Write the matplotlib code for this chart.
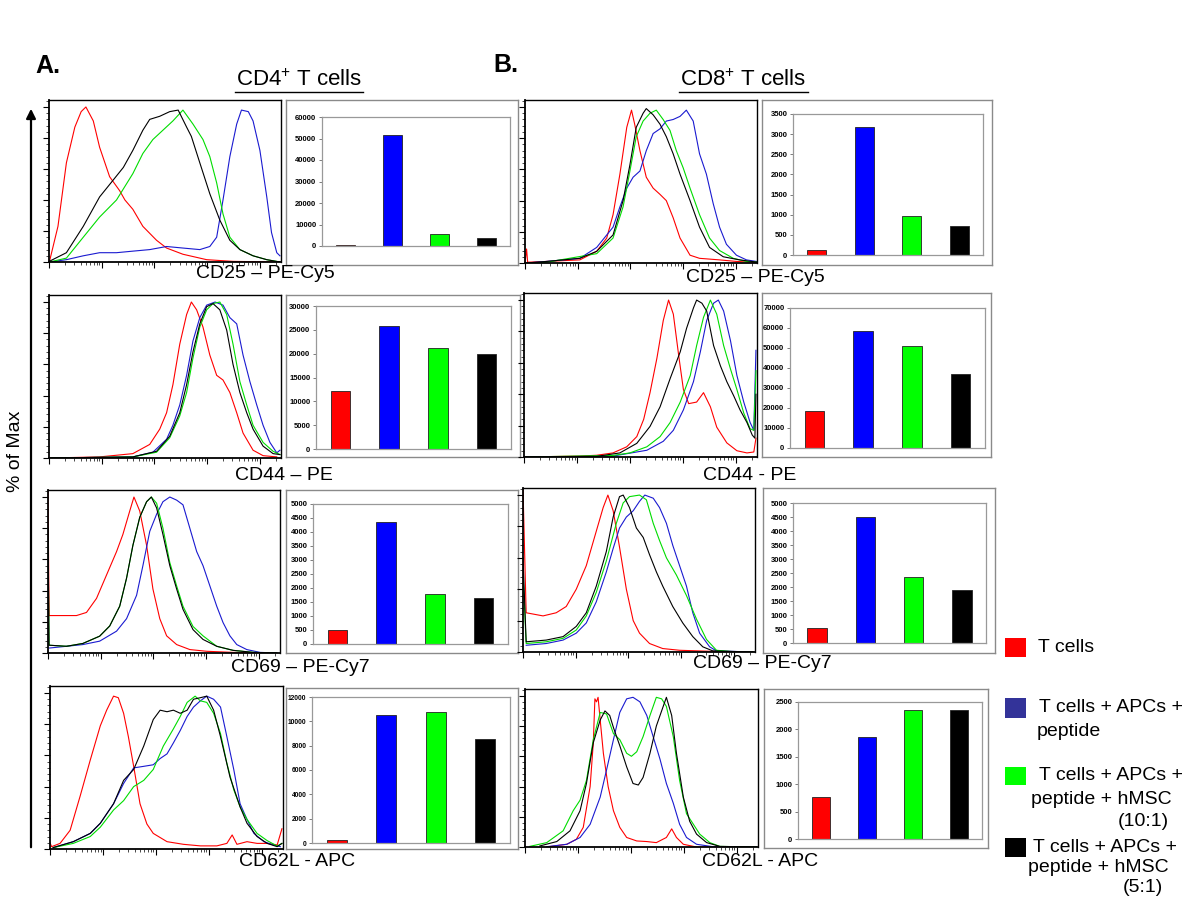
import matplotlib
matplotlib.use('Agg')
import matplotlib.pyplot as plt
from matplotlib.ticker import MultipleLocator, LogLocator, NullFormatter
from matplotlib.lines import Line2D
from matplotlib.patches import Rectangle, FancyArrowPatch

plt.rcParams['font.family'] = ['Liberation Sans', 'DejaVu Sans']
plt.rcParams['mathtext.fontset'] = 'custom'
plt.rcParams['mathtext.rm'] = 'Liberation Sans'
plt.rcParams['mathtext.default'] = 'regular'

# ---------------- data ----------------
groups = ['T cells', 'T cells + APCs + peptide',
          'T cells + APCs + peptide + hMSC (10:1)',
          'T cells + APCs + peptide + hMSC (5:1)']

# histogram curves: (log10 fluorescence, % of max)
cd4_cd25_red = [(0.01, 0.5), (0.17, 23), (0.33, 64), (0.49, 87), (0.61, 97), (0.70, 100), (0.84, 91), (0.96, 74),
                (1.15, 55), (1.34, 46), (1.44, 40), (1.59, 34), (1.78, 23), (2.04, 14), (2.23, 9), (2.54, 5),
                (2.99, 1.5), (3.49, 0.4), (4.38, 0)]
cd4_cd25_blue = [(0.01, 0), (0.33, 1.5), (0.65, 4), (0.96, 6), (1.28, 6), (1.59, 7), (1.91, 8), (2.23, 10),
                 (2.54, 9), (2.86, 8), (3.05, 10), (3.18, 16), (3.30, 40), (3.43, 68), (3.56, 89), (3.65, 98),
                 (3.78, 97), (3.87, 91), (4.00, 72), (4.13, 42), (4.22, 19), (4.32, 6), (4.38, 4)]
cd4_cd25_green = [(0.01, 0), (0.33, 2.5), (0.65, 16), (0.96, 29), (1.28, 40), (1.59, 57), (1.78, 70), (1.97, 79),
                  (2.16, 85), (2.35, 91), (2.54, 98), (2.73, 89), (2.92, 79), (3.05, 68), (3.18, 51), (3.30, 31),
                  (3.43, 16), (3.62, 8), (3.87, 4), (4.13, 1.5), (4.38, 0)]
cd4_cd25_black = [(0.01, 0.5), (0.33, 6), (0.65, 23), (0.96, 42), (1.15, 50), (1.41, 61), (1.59, 72), (1.78, 85),
                  (1.91, 92), (2.10, 94), (2.29, 97), (2.45, 98), (2.61, 87), (2.70, 81), (2.86, 64), (3.05, 44),
                  (3.24, 27), (3.43, 14), (3.62, 8), (3.87, 4), (4.13, 1.5), (4.38, 0)]

cd8_cd25_red = [(0.0, 0), (0.03, 9), (0.05, 0.5), (0.41, 1), (1.04, 2), (1.36, 7.5), (1.55, 16), (1.67, 31),
                (1.80, 57), (1.93, 87), (2.02, 98), (2.08, 89), (2.18, 72), (2.30, 55), (2.43, 48), (2.56, 44),
                (2.68, 40), (2.81, 29), (2.94, 16), (3.13, 5), (3.31, 3), (3.69, 2), (4.01, 1), (4.39, 0.4)]
cd8_cd25_blue = [(0.02, 0), (0.41, 1), (1.04, 3), (1.36, 10), (1.67, 23), (1.80, 36), (1.93, 48), (2.05, 55),
                 (2.18, 59), (2.30, 72), (2.43, 83), (2.56, 86), (2.68, 91), (2.81, 92), (2.94, 94), (3.06, 98),
                 (3.19, 91), (3.31, 70), (3.44, 57), (3.57, 38), (3.69, 23), (3.82, 12), (4.01, 5), (4.20, 2),
                 (4.39, 1)]
cd8_cd25_green = [(0.02, 0), (0.41, 0.5), (1.36, 6), (1.67, 16), (1.86, 36), (1.99, 59), (2.11, 81), (2.24, 91),
                  (2.37, 96), (2.49, 98), (2.62, 92), (2.75, 85), (2.87, 72), (3.00, 61), (3.13, 48), (3.31, 31),
                  (3.50, 16), (3.69, 8), (3.95, 3), (4.20, 1), (4.39, 0.6)]
cd8_cd25_black = [(0.02, 0), (0.41, 1), (1.04, 3), (1.36, 7.5), (1.67, 18), (1.86, 40), (1.99, 63), (2.11, 87),
                  (2.24, 96), (2.30, 99), (2.43, 95), (2.56, 89), (2.68, 81), (2.81, 70), (2.94, 57), (3.13, 40),
                  (3.31, 23), (3.50, 10), (3.76, 4), (4.07, 2), (4.39, 0.6)]

cd4_cd44_red = [(0.02, 0), (0.96, 0.7), (1.59, 2.8), (1.91, 8.7), (2.10, 18.5), (2.23, 29), (2.35, 47), (2.48, 73),
                (2.61, 92), (2.70, 100), (2.80, 95), (2.92, 84), (3.05, 66), (3.18, 53), (3.30, 50), (3.43, 42),
                (3.56, 29), (3.68, 16), (3.87, 5), (4.06, 1.5), (4.32, 0.7)]
cd4_cd44_blue = [(0.02, 0), (1.59, 0.7), (1.97, 3.7), (2.23, 12), (2.35, 21), (2.48, 34), (2.61, 53), (2.73, 75),
                 (2.86, 90), (2.99, 98), (3.15, 100), (3.30, 98), (3.43, 90), (3.56, 86), (3.68, 66), (3.81, 49),
                 (3.94, 34), (4.06, 21), (4.19, 10), (4.32, 3.3), (4.38, 5)]
cd4_cd44_green = [(0.02, 0), (1.59, 0.7), (2.04, 3.7), (2.29, 13), (2.48, 27), (2.61, 42), (2.73, 64), (2.86, 84),
                  (2.99, 95), (3.11, 99), (3.24, 100), (3.37, 92), (3.49, 73), (3.62, 49), (3.75, 34), (3.87, 21),
                  (4.06, 10), (4.25, 4.3), (4.38, 2.2)]
cd4_cd44_black = [(0.02, 0), (1.59, 0.7), (2.04, 4.3), (2.29, 14), (2.48, 29), (2.61, 47), (2.73, 68), (2.86, 86),
                  (2.99, 97), (3.11, 99), (3.24, 95), (3.37, 82), (3.49, 60), (3.62, 42), (3.75, 29), (3.87, 18.5),
                  (4.06, 7.6), (4.25, 2.8), (4.38, 2.2)]

cd8_cd44_red = [(0.02, 0), (1.05, 0.6), (1.37, 1.1), (1.68, 2.6), (1.94, 6.5), (2.13, 13), (2.26, 24), (2.38, 41),
                (2.51, 63), (2.63, 87), (2.73, 100), (2.82, 91), (2.92, 65), (3.01, 43), (3.11, 34), (3.26, 35),
                (3.39, 41), (3.52, 32), (3.64, 19), (3.83, 9), (4.02, 4), (4.21, 2.6), (4.34, 3.2), (4.38, 12)]
cd8_cd44_blue = [(0.02, 0), (1.68, 0.6), (2.32, 4.3), (2.63, 10), (2.82, 17), (3.01, 30), (3.20, 48), (3.33, 67),
                 (3.45, 87), (3.58, 98), (3.67, 100), (3.77, 93), (3.90, 74), (4.02, 52), (4.15, 35), (4.27, 22),
                 (4.34, 17), (4.38, 68)]
cd8_cd44_green = [(0.02, 0), (1.68, 1), (2.00, 2.6), (2.32, 6.5), (2.57, 13), (2.76, 22), (2.95, 35), (3.14, 52),
                  (3.26, 71), (3.39, 89), (3.52, 100), (3.64, 91), (3.77, 71), (3.90, 56), (4.02, 43), (4.15, 28),
                  (4.27, 18), (4.34, 17), (4.38, 55)]
cd8_cd44_black = [(0.02, 0), (1.37, 0.4), (1.81, 2.6), (2.13, 8.7), (2.38, 19.5), (2.57, 32), (2.76, 50),
                  (2.95, 67), (3.07, 82), (3.20, 95), (3.26, 100), (3.36, 98), (3.45, 93), (3.58, 71), (3.71, 58),
                  (3.83, 48), (3.96, 39), (4.08, 30), (4.21, 22), (4.31, 14), (4.36, 12), (4.38, 40)]

cd4_cd69_red = [(0.0, 104), (0.02, 24), (0.54, 24), (0.73, 26), (0.92, 35), (1.11, 50), (1.30, 65), (1.42, 76),
                (1.55, 91), (1.63, 100), (1.74, 91), (1.87, 69), (1.99, 41), (2.12, 22), (2.25, 11), (2.44, 5.4),
                (2.69, 2.2), (3.01, 1.1), (3.51, 0.4), (4.15, 0)]
cd4_cd69_blue = [(0.03, 3.2), (0.35, 4.3), (0.66, 5.4), (0.98, 7.6), (1.30, 14), (1.49, 22), (1.68, 37),
                 (1.80, 56), (1.93, 78), (2.06, 89), (2.18, 97), (2.31, 100), (2.44, 98), (2.56, 95), (2.69, 80),
                 (2.82, 65), (2.94, 56), (3.07, 43), (3.20, 30), (3.32, 19.5), (3.45, 11), (3.58, 5.4),
                 (3.77, 2.2), (4.02, 0.4), (4.34, 0)]
cd4_cd69_green = [(0.0, 71), (0.02, 5), (0.35, 4.3), (0.66, 6.1), (0.98, 10.8), (1.17, 17.3), (1.36, 30),
                  (1.49, 48), (1.61, 69), (1.74, 87), (1.87, 97), (1.96, 100), (2.06, 96), (2.18, 80), (2.31, 58),
                  (2.44, 43), (2.56, 30), (2.75, 17), (2.94, 11), (3.20, 4.3), (3.51, 1.7), (3.89, 0.4), (4.34, 0)]
cd4_cd69_black = [(0.0, 80), (0.02, 5), (0.35, 4.3), (0.66, 6.1), (0.98, 10.8), (1.17, 17.3), (1.36, 30),
                  (1.49, 48), (1.61, 69), (1.74, 87), (1.87, 97), (1.96, 100), (2.06, 93), (2.18, 76), (2.31, 56),
                  (2.44, 41), (2.56, 28), (2.75, 15), (2.94, 8.7), (3.20, 4.3), (3.51, 1.7), (3.89, 0.4), (4.34, 0)]

cd8_cd69_red = [(0.0, 104), (0.06, 25), (0.38, 23), (0.63, 25), (0.82, 29), (1.01, 40), (1.20, 55), (1.39, 77),
                (1.52, 92), (1.61, 100), (1.71, 90), (1.83, 67), (1.96, 40), (2.09, 20), (2.21, 12), (2.40, 5.4),
                (2.65, 2.2), (2.97, 1.1), (3.60, 0.4), (4.36, 0)]
cd8_cd69_blue = [(0.06, 4.3), (0.44, 5.4), (0.76, 7.6), (1.01, 12), (1.20, 18.5), (1.39, 32), (1.58, 51),
                 (1.71, 66), (1.83, 79), (1.96, 86), (2.09, 90), (2.21, 96), (2.31, 100), (2.47, 98), (2.59, 92),
                 (2.72, 82), (2.84, 68), (2.97, 55), (3.10, 42), (3.22, 25), (3.35, 12), (3.54, 3.3), (3.67, 0.7),
                 (4.36, 0)]
cd8_cd69_green = [(0.0, 50), (0.06, 5.4), (0.44, 6.5), (0.76, 8.7), (1.01, 14), (1.20, 23), (1.39, 38), (1.58, 58),
                  (1.77, 82), (1.90, 95), (2.02, 99), (2.21, 100), (2.34, 97), (2.47, 82), (2.59, 71), (2.72, 60),
                  (2.91, 49), (3.10, 36), (3.29, 21), (3.48, 8), (3.67, 1.1), (3.98, 0.2), (4.36, 0)]
cd8_cd69_black = [(0.0, 60), (0.06, 6.5), (0.44, 7.6), (0.76, 9.8), (1.01, 16.3), (1.20, 25), (1.39, 42),
                  (1.58, 64), (1.71, 86), (1.83, 99), (1.90, 100), (2.02, 92), (2.15, 79), (2.28, 73), (2.40, 62),
                  (2.53, 51), (2.65, 42), (2.84, 29), (3.03, 18.5), (3.22, 9.8), (3.41, 3.3), (3.60, 0.7),
                  (4.36, 0)]

cd4_cd62l_red = [(0.0, 4), (0.03, 1.5), (0.19, 3.6), (0.38, 12), (0.57, 34), (0.76, 57), (0.95, 79), (1.07, 89),
                 (1.20, 98), (1.29, 97), (1.39, 87), (1.48, 72), (1.58, 53), (1.70, 29), (1.83, 16), (1.95, 10),
                 (2.21, 4.7), (2.52, 3), (2.84, 2), (3.15, 2), (3.34, 3.6), (3.44, 9), (3.53, 3), (3.72, 4.7),
                 (3.91, 3.6), (4.10, 3.6), (4.29, 2.6), (4.38, 13)]
cd4_cd62l_blue = [(0.06, 0.9), (0.44, 4.7), (0.76, 10), (0.95, 16.5), (1.20, 29), (1.39, 42), (1.58, 52),
                  (1.77, 53), (1.95, 54), (2.08, 58), (2.21, 61), (2.33, 68), (2.46, 76), (2.59, 85), (2.71, 91),
                  (2.84, 95), (2.96, 98), (3.09, 96), (3.22, 91), (3.34, 72), (3.47, 51), (3.59, 29), (3.72, 19),
                  (3.85, 10), (4.04, 4.7), (4.22, 2.6), (4.35, 1.5)]
cd4_cd62l_green = [(0.06, 0.9), (0.44, 3.6), (0.76, 8), (0.95, 14), (1.20, 25), (1.39, 31), (1.58, 40), (1.77, 44),
                   (1.95, 51), (2.14, 66), (2.33, 77), (2.46, 85), (2.59, 94), (2.74, 98), (2.84, 95), (2.96, 94),
                   (3.09, 87), (3.22, 74), (3.34, 55), (3.47, 38), (3.59, 27), (3.72, 19), (3.91, 10), (4.10, 5.4),
                   (4.29, 1.9), (4.38, 3.6)]
cd4_cd62l_black = [(0.06, 0.9), (0.44, 4.7), (0.76, 10), (0.95, 16.5), (1.20, 29), (1.39, 44), (1.58, 51),
                   (1.77, 66), (1.95, 83), (2.08, 89), (2.21, 88), (2.33, 89), (2.46, 87), (2.59, 89), (2.71, 96),
                   (2.84, 97), (2.96, 98), (3.09, 89), (3.22, 72), (3.40, 46), (3.50, 36), (3.59, 27), (3.72, 16.5),
                   (3.91, 8), (4.10, 3.6), (4.29, 1.5), (4.38, 3.6)]

cd8_cd62l_red = [(0.41, 0), (0.79, 1.8), (0.97, 5.1), (1.10, 13), (1.23, 40), (1.29, 69), (1.32, 98), (1.35, 96),
                 (1.38, 99), (1.42, 84), (1.48, 62), (1.57, 40), (1.67, 24), (1.79, 13), (1.92, 6.3), (2.11, 4),
                 (2.30, 3.6), (2.48, 2.9), (2.67, 6.3), (2.77, 12), (2.86, 6.3), (2.99, 1.8), (3.24, 0), (4.37, 0)]
cd8_cd62l_blue = [(0.41, 0.2), (0.79, 1.8), (1.04, 6.3), (1.23, 15), (1.42, 33), (1.54, 51), (1.67, 71), (1.79, 89),
                  (1.92, 98), (2.04, 99), (2.17, 96), (2.30, 87), (2.42, 73), (2.55, 58), (2.67, 42), (2.80, 29),
                  (2.92, 15), (3.05, 6.3), (3.24, 1.8), (3.55, 0.2), (4.37, 0)]
cd8_cd62l_green = [(0.09, 0.4), (0.41, 2.9), (0.72, 10.7), (0.91, 24), (1.04, 31), (1.16, 44), (1.29, 71),
                   (1.42, 89), (1.54, 88), (1.67, 75), (1.79, 71), (1.92, 62), (2.01, 60), (2.11, 63), (2.23, 73),
                   (2.36, 87), (2.48, 99), (2.58, 98), (2.67, 93), (2.80, 73), (2.92, 44), (3.05, 22), (3.18, 15),
                   (3.30, 8.5), (3.49, 2.9), (3.68, 0.4), (4.37, 0)]
cd8_cd62l_black = [(0.28, 0.7), (0.60, 3.6), (0.85, 10.7), (1.04, 24), (1.16, 42), (1.29, 69), (1.42, 84),
                   (1.51, 90), (1.60, 87), (1.67, 79), (1.79, 67), (1.92, 53), (2.04, 42), (2.14, 41), (2.23, 46),
                   (2.36, 62), (2.48, 80), (2.61, 93), (2.67, 99), (2.77, 87), (2.86, 62), (2.99, 33), (3.11, 17),
                   (3.24, 8.5), (3.43, 2.9), (3.68, 0.4), (4.37, 0)]

# bar charts (MFI)
cd4_cd25_mfi = [300, 51500, 5500, 3600]
cd8_cd25_mfi = [120, 3180, 980, 720]
cd4_cd44_mfi = [12200, 25800, 21100, 20000]
cd8_cd44_mfi = [18500, 58500, 50800, 37200]
cd4_cd69_mfi = [500, 4350, 1800, 1650]
cd8_cd69_mfi = [550, 4500, 2350, 1880]
cd4_cd62l_mfi = [250, 10550, 10800, 8550]
cd8_cd62l_mfi = [760, 1860, 2350, 2350]

line_colors = ['#ff0000', '#1a1ad0', '#00dd00', '#000000']
bar_colors = ['#ff0000', '#0000ff', '#00ff00', '#000000']
legend_colors = ['#ff0000', '#333399', '#00ff00', '#000000']

# ---------------- layout helpers (pixels of a 1200x900 canvas) ----------------
W, H = 1200, 900
fig = plt.figure(figsize=(12, 9), dpi=100)


def rect(x0, y0, x1, y1):
    return [x0 / W, 1 - y1 / H, (x1 - x0) / W, (y1 - y0) / H]


def fx(x):
    return x / W


def fy(y):
    return 1 - y / H


def histo(box, curves):
    ax = fig.add_axes(rect(*box))
    for pts, c in zip(curves, line_colors):
        xs = [10 ** d for d, p in pts]
        ys = [p for d, p in pts]
        ax.plot(xs, ys, color=c, lw=0.8)
    ax.set_xscale('log')
    ax.set_xlim(1, 10 ** 4.4)
    ax.set_ylim(0, 104.5)
    ax.yaxis.set_major_locator(MultipleLocator(20))
    ax.yaxis.set_minor_locator(MultipleLocator(4))
    ax.xaxis.set_major_locator(LogLocator(base=10, numticks=10))
    ax.xaxis.set_minor_locator(LogLocator(base=10, subs=range(2, 10), numticks=50))
    ax.xaxis.set_major_formatter(NullFormatter())
    ax.xaxis.set_minor_formatter(NullFormatter())
    ax.yaxis.set_major_formatter(NullFormatter())
    ax.tick_params(which='major', length=4, width=0.8, direction='out')
    ax.tick_params(which='minor', length=2, width=0.5, direction='out')
    for s in ax.spines.values():
        s.set_linewidth(1.0)
    ax.spines['left'].set_linewidth(1.3)
    ax.spines['bottom'].set_linewidth(1.3)
    return ax


def bars(outer, inner, vals, top, step, fs=5.5):
    bg = fig.add_axes(rect(*outer))
    bg.set_xticks([])
    bg.set_yticks([])
    for s in bg.spines.values():
        s.set_color('#8a8a8a')
        s.set_linewidth(1.0)
    ax = fig.add_axes(rect(*inner))
    ax.bar(range(len(vals)), vals, width=0.4, color=bar_colors, edgecolor='#222222', linewidth=0.6)
    ax.set_xlim(-0.5, 3.5)
    ax.set_ylim(0, top)
    ax.set_yticks(range(0, top + 1, step))
    ax.set_xticks([])
    for s in ax.spines.values():
        s.set_color('#999999')
        s.set_linewidth(0.9)
    ax.tick_params(axis='y', length=2.5, width=0.6, color='#666666', labelsize=fs, pad=1.5)
    for lab in ax.get_yticklabels():
        lab.set_fontweight('bold')
    return ax


# ---------------- panels ----------------
histo((49, 100, 281, 262), [cd4_cd25_red, cd4_cd25_blue, cd4_cd25_green, cd4_cd25_black])
bars((286, 100, 518, 265), (322, 117, 510, 246), cd4_cd25_mfi, 60000, 10000)
histo((525, 100, 757, 263), [cd8_cd25_red, cd8_cd25_blue, cd8_cd25_green, cd8_cd25_black])
bars((762, 100, 992, 265), (793, 114, 983, 255), cd8_cd25_mfi, 3500, 500)

histo((49, 295, 281, 458), [cd4_cd44_red, cd4_cd44_blue, cd4_cd44_green, cd4_cd44_black])
bars((286, 295, 520, 457), (316, 306, 511, 449), cd4_cd44_mfi, 30000, 5000)
histo((524, 293, 757, 457), [cd8_cd44_red, cd8_cd44_blue, cd8_cd44_green, cd8_cd44_black])
bars((762, 293, 991, 457), (790, 308, 985, 448), cd8_cd44_mfi, 70000, 10000)

histo((48, 490, 280, 653), [cd4_cd69_red, cd4_cd69_blue, cd4_cd69_green, cd4_cd69_black])
bars((286, 490, 518, 653), (313, 504, 508, 644), cd4_cd69_mfi, 5000, 500)
histo((523, 488, 755, 652), [cd8_cd69_red, cd8_cd69_blue, cd8_cd69_green, cd8_cd69_black])
bars((763, 488, 995, 653), (793, 503, 986, 643), cd8_cd69_mfi, 5000, 500)

histo((50, 686, 283, 849), [cd4_cd62l_red, cd4_cd62l_blue, cd4_cd62l_green, cd4_cd62l_black])
bars((286, 688, 518, 849), (312, 697, 510, 843), cd4_cd62l_mfi, 12000, 2000, fs=4.8)
histo((525, 689, 758, 847), [cd8_cd62l_red, cd8_cd62l_blue, cd8_cd62l_green, cd8_cd62l_black])
bars((764, 689, 988, 848), (798, 702, 982, 839), cd8_cd62l_mfi, 2500, 500)

# ---------------- text ----------------
fig.text(fx(35), fy(66), 'A.', fontsize=18, fontweight='bold', va='center', ha='left')
fig.text(fx(493), fy(65), 'B.', fontsize=18, fontweight='bold', va='center', ha='left')
fig.text(fx(299), fy(80), 'CD4$^{+}$ T cells', fontsize=16, va='center', ha='center')
fig.text(fx(743), fy(80), 'CD8$^{+}$ T cells', fontsize=16, va='center', ha='center')
fig.add_artist(Line2D([fx(235), fx(363)], [fy(92), fy(92)], color='black', lw=1.0))
fig.add_artist(Line2D([fx(679), fx(808)], [fy(92), fy(92)], color='black', lw=1.0))

marker_labels = [
    ('CD25 \u2013 PE-Cy5', 265, 273), ('CD25 \u2013 PE-Cy5', 755, 278),
    ('CD44 \u2013 PE', 284, 475), ('CD44 - PE', 750, 475),
    ('CD69 \u2013 PE-Cy7', 300, 667), ('CD69 \u2013 PE-Cy7', 762, 664),
    ('CD62L - APC', 297, 862), ('CD62L - APC', 760, 862),
]
for txt, x, y in marker_labels:
    fig.text(fx(x), fy(y), txt, fontsize=14, ha='center', va='center')

fig.text(fx(15), fy(451), '% of Max', fontsize=14, rotation=90, ha='center', va='center')
fig.add_artist(FancyArrowPatch((fx(31), fy(850)), (fx(31), fy(106)), transform=fig.transFigure,
                               arrowstyle='-|>', mutation_scale=14, lw=1.6, color='black'))

# legend
legend_boxes = [(638, 657), (698, 718), (767, 785), (838, 857)]
for (y0, y1), c in zip(legend_boxes, legend_colors):
    fig.add_artist(Rectangle((fx(1005), fy(y1)), fx(21), (y1 - y0) / H, transform=fig.transFigure,
                             facecolor=c, edgecolor='none'))
legend_lines = [
    ('T cells', 1038, 648),
    ('T cells + APCs +', 1039, 708), ('peptide', 1037, 732),
    ('T cells + APCs +', 1039, 776), ('peptide + hMSC', 1031, 800), ('(10:1)', 1118, 822),
    ('T cells + APCs +', 1033, 847), ('peptide + hMSC', 1028, 867), ('(5:1)', 1123, 887),
]
for txt, x, y in legend_lines:
    fig.text(fx(x), fy(y), txt, fontsize=14, ha='left', va='center')

fig.savefig('out.png', dpi=100)
